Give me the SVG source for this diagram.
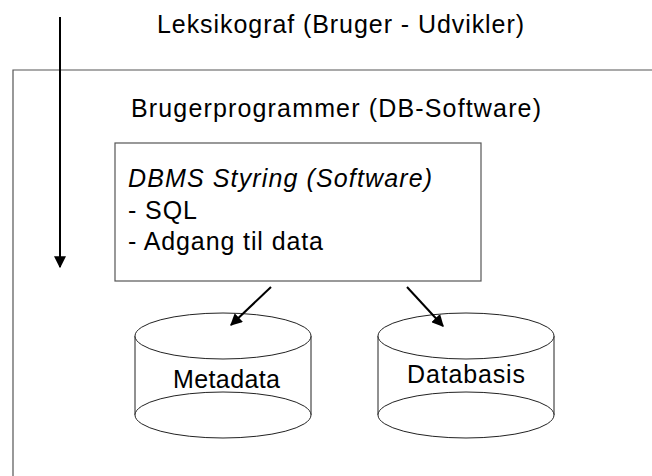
<svg xmlns="http://www.w3.org/2000/svg" width="652" height="476" viewBox="0 0 652 476">
<defs>
<style>
text{font-family:"Liberation Sans",Arial,sans-serif;font-size:25px;fill:#000}
.frame{fill:none;stroke:#555;stroke-width:1.2}
.cyl{fill:#fff;stroke:#222;stroke-width:1}
.conn{stroke:#000;stroke-width:2;fill:none}
</style>
<marker id="ah" viewBox="0 0 10 10" refX="9" refY="5" markerWidth="6" markerHeight="6" orient="auto" markerUnits="strokeWidth">
<path d="M0,0 L10,5 L0,10 z" fill="#000"/>
</marker>
</defs>
<rect width="652" height="476" fill="#fff"/>
<g id="outer">
<path class="frame" d="M13,476 V70 H652"/>
</g>
<g id="leksikograf"><text x="157" y="33" font-size="26" textLength="367" lengthAdjust="spacing">Leksikograf (Bruger - Udvikler)</text></g>
<g id="brugerprogrammer"><text x="131" y="117" textLength="410" lengthAdjust="spacing">Brugerprogrammer (DB-Software)</text></g>
<g id="dbms">
<rect class="frame" x="115" y="143" width="366" height="138"/>
<text x="128" y="187" font-style="italic" textLength="304" lengthAdjust="spacing">DBMS Styring (Software)</text>
<text x="128" y="219" textLength="69" lengthAdjust="spacing">- SQL</text>
<text x="128" y="250" textLength="195" lengthAdjust="spacing">- Adgang til data</text>
</g>
<g id="metadata">
<path class="cyl" d="M135,336 V415 A88,23 0 0 0 311,415 V336"/>
<ellipse class="cyl" cx="223" cy="336" rx="88" ry="23"/>
<path class="cyl" d="M135,415 A88,23 0 0 1 311,415"/>
<text x="173" y="388" textLength="107" lengthAdjust="spacing">Metadata</text>
</g>
<g id="databasis">
<path class="cyl" d="M378,336 V415 A88,23 0 0 0 554,415 V336"/>
<ellipse class="cyl" cx="466" cy="336" rx="88" ry="23"/>
<path class="cyl" d="M378,415 A88,23 0 0 1 554,415"/>
<text x="407" y="383" textLength="118" lengthAdjust="spacing">Databasis</text>
</g>
<g id="connectors">
<line class="conn" x1="60" y1="17" x2="60" y2="267" marker-end="url(#ah)"/>
<line class="conn" x1="271" y1="287" x2="231" y2="325" marker-end="url(#ah)"/>
<line class="conn" x1="407" y1="287" x2="443" y2="326" marker-end="url(#ah)"/>
</g>
</svg>
